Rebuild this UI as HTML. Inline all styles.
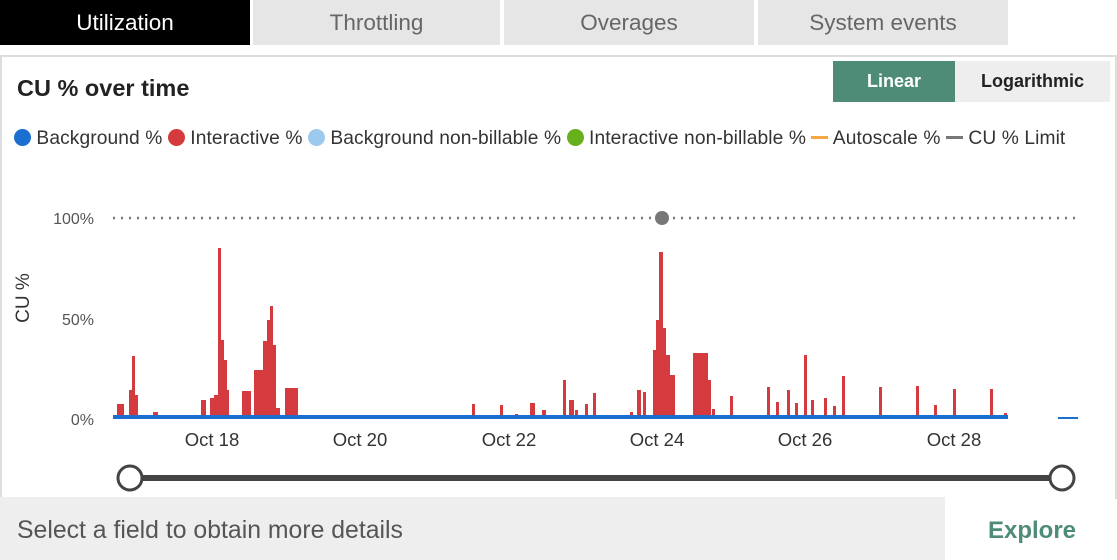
<!DOCTYPE html>
<html><head><meta charset="utf-8"><style>
body{margin:0;width:1117px;height:560px;background:#fff;font-family:"Liberation Sans",sans-serif;position:relative;overflow:hidden}
.t{position:absolute;top:0;height:45px;line-height:45px;text-align:center;font-size:22.5px;color:#666;background:#e6e6e6}
.a{position:absolute}
</style></head><body>
<div class="t" style="left:0;width:250px;background:#000;color:#fff">Utilization</div>
<div class="t" style="left:253px;width:247px">Throttling</div>
<div class="t" style="left:504px;width:250px">Overages</div>
<div class="t" style="left:758px;width:250px">System events</div>
<div class="a" style="left:0;top:55px;width:1113px;height:442px;border:2px solid #ddd;border-bottom:none"></div>
<div class="a" style="left:17px;top:75px;font-size:23.5px;font-weight:bold;color:#222">CU % over time</div>
<div class="a" style="left:833px;top:61px;width:122px;height:41px;background:#4e8c77;color:#fff;font-weight:bold;font-size:18px;line-height:41px;text-align:center">Linear</div>
<div class="a" style="left:955px;top:61px;width:155px;height:41px;background:#eee;color:#222;font-weight:bold;font-size:18px;line-height:41px;text-align:center">Logarithmic</div>
<div class="a" style="left:14px;top:129px;font-size:19.2px;letter-spacing:0.1px;color:#333;white-space:nowrap;line-height:20px">
<span style="display:inline-block;width:17px;height:17px;border-radius:50%;background:#1a6fd0;vertical-align:-2px"></span> Background %
<span style="display:inline-block;width:17px;height:17px;border-radius:50%;background:#d53a3e;vertical-align:-2px"></span> Interactive %
<span style="display:inline-block;width:17px;height:17px;border-radius:50%;background:#9cc9ee;vertical-align:-2px"></span> Background non-billable %
<span style="display:inline-block;width:17px;height:17px;border-radius:50%;background:#66b01c;vertical-align:-2px"></span> Interactive non-billable %
<span style="display:inline-block;width:17px;height:3px;background:#f5a742;vertical-align:5px"></span> Autoscale %
<span style="display:inline-block;width:17px;height:3px;background:#777;vertical-align:5px"></span> CU % Limit</div>
<svg class="a" style="left:0;top:0" width="1117" height="560">
<g font-family="Liberation Sans" font-size="16" fill="#555" text-anchor="end">
<text x="94" y="224">100%</text><text x="94" y="325">50%</text><text x="94" y="425">0%</text></g>
<text transform="translate(29,298) rotate(-90)" text-anchor="middle" font-size="19" fill="#333">CU %</text>
<line x1="113" y1="218" x2="1080" y2="218" stroke="#777" stroke-width="2.5" stroke-dasharray="2,6"/>
<circle cx="662" cy="218" r="7" fill="#777"/>
<g fill="#d53a3e">
<rect x="117" y="404" width="7" height="13"/><rect x="129" y="390" width="3" height="27"/><rect x="132" y="356" width="3" height="61"/><rect x="135" y="395" width="3" height="22"/>
<rect x="153" y="412" width="5" height="5"/><rect x="201" y="400" width="5" height="17"/><rect x="210" y="398" width="4" height="19"/>
<rect x="214" y="395" width="4" height="22"/><rect x="218" y="248" width="3" height="169"/><rect x="221" y="340" width="3" height="77"/><rect x="224" y="360" width="3" height="57"/><rect x="227" y="390" width="2" height="27"/>
<rect x="242" y="391" width="9" height="26"/><rect x="254" y="370" width="9" height="47"/><rect x="263" y="341" width="4" height="76"/><rect x="267" y="320" width="3" height="97"/><rect x="270" y="306" width="3" height="111"/><rect x="273" y="345" width="3" height="72"/><rect x="276" y="408" width="4" height="9"/>
<rect x="285" y="388" width="13" height="29"/>
<rect x="472" y="404" width="3" height="13"/><rect x="500" y="405" width="3" height="12"/><rect x="515" y="414" width="3" height="3"/><rect x="530" y="403" width="5" height="14"/><rect x="542" y="410" width="4" height="7"/><rect x="563" y="380" width="3" height="37"/><rect x="569" y="400" width="5" height="17"/><rect x="575" y="410" width="3" height="7"/><rect x="585" y="404" width="3" height="13"/><rect x="593" y="393" width="3" height="24"/>
<rect x="630" y="412" width="3" height="5"/><rect x="637" y="390" width="4" height="27"/><rect x="643" y="392" width="3" height="25"/>
<rect x="653" y="350" width="3" height="67"/><rect x="656" y="320" width="3" height="97"/><rect x="659" y="252" width="4" height="165"/><rect x="663" y="328" width="3" height="89"/><rect x="666" y="355" width="4" height="62"/><rect x="670" y="375" width="5" height="42"/>
<rect x="693" y="353" width="15" height="64"/><rect x="708" y="380" width="3" height="37"/><rect x="712" y="409" width="3" height="8"/><rect x="730" y="396" width="3" height="21"/>
<rect x="767" y="387" width="3" height="30"/><rect x="776" y="402" width="3" height="15"/><rect x="787" y="390" width="3" height="27"/><rect x="795" y="403" width="3" height="14"/><rect x="804" y="355" width="3" height="62"/><rect x="811" y="400" width="3" height="17"/><rect x="824" y="398" width="3" height="19"/><rect x="833" y="406" width="3" height="11"/><rect x="842" y="376" width="3" height="41"/>
<rect x="879" y="387" width="3" height="30"/><rect x="916" y="386" width="3" height="31"/><rect x="934" y="405" width="3" height="12"/><rect x="953" y="389" width="3" height="28"/><rect x="990" y="389" width="3" height="28"/><rect x="1004" y="413" width="3" height="4"/>
</g>
<rect x="113" y="415" width="895" height="4" fill="#1a6fd0"/>
<rect x="1058" y="417" width="20" height="2" fill="#1a6fd0"/>
<g font-family="Liberation Sans" font-size="18.5" fill="#333" text-anchor="middle">
<text x="212" y="446">Oct 18</text><text x="360" y="446">Oct 20</text><text x="509" y="446">Oct 22</text><text x="657" y="446">Oct 24</text><text x="805" y="446">Oct 26</text><text x="954" y="446">Oct 28</text></g>
<line x1="130" y1="478" x2="1062" y2="478" stroke="#444" stroke-width="6"/>
<circle cx="130" cy="478" r="12" fill="#fff" stroke="#444" stroke-width="3"/>
<circle cx="1062" cy="478" r="12" fill="#fff" stroke="#444" stroke-width="3"/>
</svg>
<div class="a" style="left:0;top:497px;width:945px;height:63px;background:#eee"></div>
<div class="a" style="left:17px;top:517px;font-size:24.8px;color:#555">Select a field to obtain more details</div>
<div class="a" style="left:988px;top:517px;font-size:24px;font-weight:bold;color:#4e8c77">Explore</div>
</body></html>
